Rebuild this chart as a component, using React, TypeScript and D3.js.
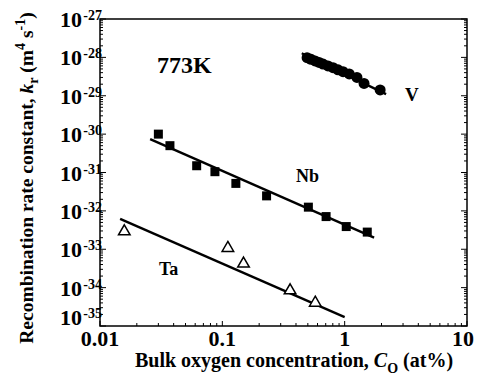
import React from 'react';
import * as d3 from 'd3';

// Nb (squares)
const nbConc = [0.030, 0.0373, 0.0617, 0.087, 0.129, 0.23, 0.505, 0.705, 1.03, 1.53];
const nbRate = [1.0e-30, 5.0e-31, 1.5e-31, 1.05e-31, 5.2e-32, 2.46e-32, 1.25e-32, 7.1e-33, 3.9e-33, 2.8e-33];
const nbFitConc = [0.0257, 1.74];
const nbFitRate = [7.4e-31, 2.0e-33];

// Ta (open triangles)
const taConc = [0.0158, 0.111, 0.149, 0.358, 0.575];
const taRate = [2.9e-33, 1.07e-33, 4.2e-34, 8.4e-35, 4.0e-35];
const taFitConc = [0.0146, 1.0];
const taFitRate = [6.2e-33, 1.7e-35];

// V (filled circles)
const vConc = [0.493, 0.531, 0.573, 0.618, 0.666, 0.731, 0.804, 0.883, 0.97, 1.09, 1.26, 1.44, 1.95];
const vRate = [9.8e-29, 8.9e-29, 8.1e-29, 7.4e-29, 6.7e-29, 6.0e-29, 5.4e-29, 4.75e-29, 4.25e-29, 3.7e-29, 3.0e-29, 2.1e-29, 1.42e-29];
const vFitConc = [0.446, 2.18];
const vFitRate = [1.28e-28, 1.1e-29];

const xTickVals = [0.01, 0.1, 1, 10];
const xTickLabels = ['0.01', '0.1', '1', '10'];
const yExponents = [-27, -28, -29, -30, -31, -32, -33, -34, -35];

const FONT = '"Liberation Serif", "Times New Roman", serif';

export default function App() {
  const left = 100, right = 467, top = 19, bottom = 326;

  const x = d3.scaleLog().domain([0.01, 10]).range([left, right]);
  const y = d3.scaleLog().domain([1e-35, 1e-27]).range([bottom, top]);

  const line = d3.line<[number, number]>()
    .x(d => x(d[0]))
    .y(d => y(d[1]));

  const zip = (a: number[], b: number[]) => a.map((v, i) => [v, b[i]] as [number, number]);

  const xMinor = x.ticks();
  const yMinor = y.ticks();
  const isMajor = (v: number) => Math.abs(Math.log10(v) - Math.round(Math.log10(v))) < 1e-6;

  const tri = d3.symbol().type(d3.symbolTriangle).size(58)();

  return (
    <svg width={482} height={382} style={{ position: 'absolute', left: 0, top: 0, background: '#fff' }}
      fontFamily={FONT} fontWeight="bold">
      <rect width={482} height={382} fill="#fff" />

      {/* ticks on left & right */}
      {yMinor.map((v, i) => {
        const len = isMajor(v) ? 6 : 3;
        return (
          <g key={'yt' + i} stroke="#000" strokeWidth={1}>
            <line x1={left} x2={left + len} y1={y(v)} y2={y(v)} />
            <line x1={right} x2={right - len} y1={y(v)} y2={y(v)} />
          </g>
        );
      })}
      {xMinor.map((v, i) => {
        const len = isMajor(v) ? 5 : 3;
        return <line key={'xt' + i} x1={x(v)} x2={x(v)} y1={bottom} y2={bottom - len} stroke="#000" strokeWidth={1} />;
      })}

      {/* frame */}
      <rect x={left} y={top} width={right - left} height={bottom - top} fill="none" stroke="#000" strokeWidth={1.5} />

      {/* y tick labels */}
      {yExponents.map(e => (
        <text key={'yl' + e} x={left - 18} y={y(Math.pow(10, e)) + (e === -35 ? -1 : 8)} textAnchor="end" fontSize={22}>
          10
          <tspan x={left + 2} dy={-7} fontSize={14} textAnchor="end">{String(e)}</tspan>
        </text>
      ))}

      {/* x tick labels */}
      {xTickVals.map((v, i) => (
        <text key={'xl' + i} x={x(v) - (v === 10 ? 4 : 0)} y={346} textAnchor="middle" fontSize={22}>{xTickLabels[i]}</text>
      ))}

      {/* axis titles */}
      <text x={294} y={367} textAnchor="middle" fontSize={20}>
        Bulk oxygen concentration, <tspan fontStyle="italic">C</tspan>
        <tspan dy={6} fontSize={14}>O</tspan>
        <tspan dy={-6}> (at%)</tspan>
      </text>
      <text transform="translate(33,178) rotate(-90)" textAnchor="middle" fontSize={19.5}>
        Recombination rate constant, <tspan fontStyle="italic">k</tspan>
        <tspan dy={5} fontSize={14}>r</tspan>
        <tspan dy={-5}> (m</tspan>
        <tspan dy={-8} fontSize={14}>4</tspan>
        <tspan dy={8}> s</tspan>
        <tspan dy={-8} fontSize={14}>-1</tspan>
        <tspan dy={8}>)</tspan>
      </text>

      {/* fit lines */}
      <path d={line(zip(nbFitConc, nbFitRate)) || ''} stroke="#000" strokeWidth={2.4} fill="none" />
      <path d={line(zip(taFitConc, taFitRate)) || ''} stroke="#000" strokeWidth={2.4} fill="none" />
      <path d={line(zip(vFitConc, vFitRate)) || ''} stroke="#000" strokeWidth={2.4} fill="none" />

      {/* Nb squares */}
      {zip(nbConc, nbRate).map((d, i) => (
        <rect key={'nb' + i} x={x(d[0]) - 4.5} y={y(d[1]) - 4.5} width={9} height={9} fill="#000" />
      ))}

      {/* Ta triangles */}
      {zip(taConc, taRate).map((d, i) => (
        <path key={'ta' + i} d={tri || ''} transform={`translate(${x(d[0])},${y(d[1])})`} fill="#fff" stroke="#000" strokeWidth={1.5} />
      ))}

      {/* V circles */}
      {zip(vConc, vRate).map((d, i) => (
        <circle key={'v' + i} cx={x(d[0])} cy={y(d[1])} r={5.5} fill="#000" />
      ))}

      {/* labels */}
      <text x={157} y={73} fontSize={24}>773K</text>
      <text x={405} y={101} fontSize={19}>V</text>
      <text x={296} y={182} fontSize={18}>Nb</text>
      <text x={159} y={275} fontSize={18}>Ta</text>
    </svg>
  );
}
